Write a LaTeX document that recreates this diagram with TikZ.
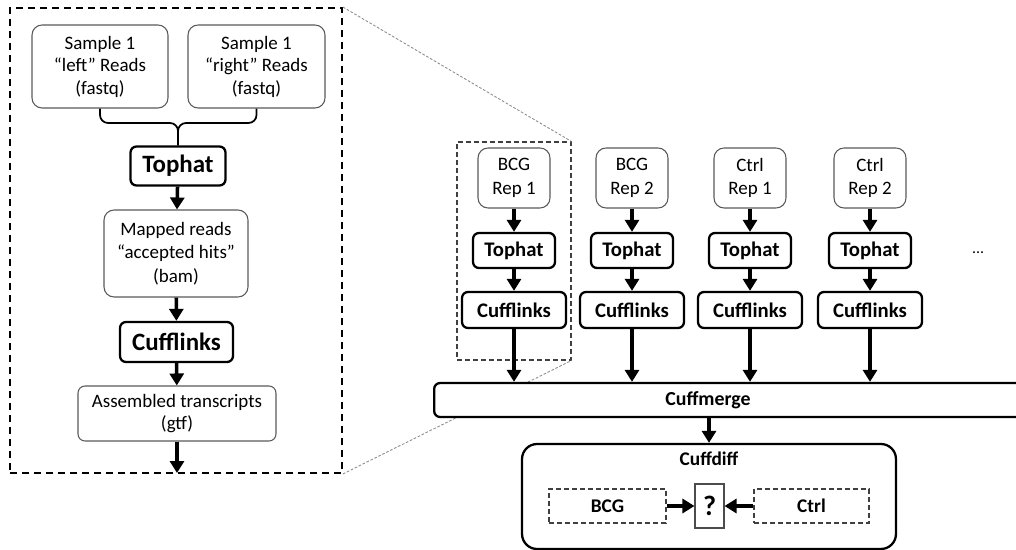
\documentclass[tikz,border=0pt]{standalone}
\usepackage{fontspec}
\setmainfont{Carlito}
\usepackage{tikz}
\usetikzlibrary{arrows.meta, positioning}

\begin{document}
\begin{tikzpicture}[x=0.02cm, y=-0.02cm,
  filebox/.style={draw=black!65, line width=0.6pt, rounded corners=0.2cm, align=center, inner sep=0pt, font=\fontsize{10.8}{12.8}\selectfont},
  toolbox/.style={draw=black, line width=1.3pt, rounded corners=0.12cm, inner sep=0pt, font=\fontsize{14.2}{16}\selectfont\bfseries},
  smalltool/.style={toolbox, font=\fontsize{11.8}{14}\selectfont\bfseries},
  zoombox/.style={draw=black, line width=1.1pt, dash pattern=on 0.14cm off 0.1cm},
  groupbox/.style={draw=black!75, line width=0.6pt, dash pattern=on 0.1cm off 0.06cm, inner sep=0pt, font=\fontsize{11}{13}\selectfont\bfseries},
  flow/.style={line width=2pt, -{Triangle[width=0.28cm, length=0.24cm]}},
  zoomline/.style={draw=black!45, line width=0.5pt, dash pattern=on 1.5pt off 1pt}]
  \useasboundingbox (0,0) rectangle (1016,550);

  % One sample, zoomed in
  \node[zoombox, minimum width=6.64cm, minimum height=9.3cm] (zoomL) at (176,240.5) {};
  \node[filebox, minimum width=2.72cm, minimum height=1.66cm] (samL) at (100,66.5) {Sample 1\\“left” Reads\\(fastq)};
  \node[filebox, minimum width=2.74cm, minimum height=1.66cm] (samR) at (256.5,66.5) {Sample 1\\“right” Reads\\(fastq)};
  \node[toolbox, minimum width=1.9cm, minimum height=0.78cm] (tophatL) at (178,166) {Tophat};
  \node[filebox, minimum width=2.88cm, minimum height=1.74cm, font=\fontsize{10.8}{13.5}\selectfont] (mapped) at (176,253.5) {Mapped reads\\“accepted hits”\\(bam)};
  \node[toolbox, minimum width=2.26cm, minimum height=0.8cm] (cufflinksL) at (176.5,342) {Cufflinks};
  \node[filebox, minimum width=3.96cm, minimum height=1.1cm, rounded corners=0.14cm] (asm) at (177,413.5) {Assembled transcripts\\(gtf)};
  \coordinate (join) at (178,123);
  \coordinate (outL) at (177,473);
  \draw[line width=1pt, rounded corners=0.16cm] (samL.south) |- (join) -- (tophatL.north);
  \draw[line width=1pt, rounded corners=0.16cm] (samR.south) |- (join) -- (tophatL.north);
  \draw[flow] (tophatL) -- (mapped);
  \draw[flow] (mapped) -- (cufflinksL);
  \draw[flow] (cufflinksL) -- (asm);
  \draw[flow] (asm.south) -- (outL);

  % Zoom lines
  \node[draw=black!75, line width=0.6pt, dash pattern=on 0.1cm off 0.06cm, minimum width=2.28cm, minimum height=4.36cm] (zoomR) at (514,251) {};
  \draw[zoomline] (zoomL.north east) -- (zoomR.north east);
  \draw[zoomline] (zoomL.south east) -- (zoomR.south east);

  % Merge
  \node[toolbox, fill=white, anchor=west, minimum width=11.9cm, minimum height=0.68cm] (cuffmerge) at (433,400) {};
  \node[font=\fontsize{11.3}{13}\selectfont\bfseries] (cuffmergelbl) at (708,400) {Cuffmerge};

  % Replicates
  \foreach \cx/\grp/\rep/\id in {514/BCG/1/a, 632/BCG/2/b, 750/Ctrl/1/c, 870/Ctrl/2/d} {
    \begin{scope}[shift={(\cx,0)}]
      \node[filebox, minimum width=1.44cm, minimum height=1.2cm, font=\fontsize{10.8}{13.5}\selectfont] (rep\id) at (0,178) {\grp\\Rep \rep};
      \node[smalltool, minimum width=1.64cm, minimum height=0.7cm] (th\id) at (0,250.5) {Tophat};
      \node[smalltool, minimum width=2.08cm, minimum height=0.72cm] (cl\id) at (0,310) {Cufflinks};
      \draw[flow] (rep\id) -- (th\id);
      \draw[flow] (th\id) -- (cl\id);
      \draw[flow] (cl\id) -- (cl\id |- cuffmerge.north);
    \end{scope}
  }
  \node[font=\fontsize{9}{11}\selectfont] (dots) at (978,253) {...};

  % Differential expression
  \node[draw, line width=1.3pt, rounded corners=0.3cm, minimum width=7.48cm, minimum height=2.1cm] (cuffdiff) at (709,496.5) {};
  \node[font=\fontsize{11}{13}\selectfont\bfseries] (cuffdifflbl) at (709,459) {Cuffdiff};
  \draw[flow] (cuffmerge.south -| cuffdiff.north) -- (cuffdiff.north);
  \node[groupbox, minimum width=2.34cm, minimum height=0.68cm] (bcg) at (607.5,506) {BCG};
  \node[draw=black!70, line width=0.6pt, inner sep=0pt, minimum width=0.58cm, minimum height=0.88cm, font=\fontsize{16}{18}\selectfont\bfseries] (query) at (709.5,506) {?};
  \node[groupbox, minimum width=2.3cm, minimum height=0.68cm] (ctrl) at (811.5,506) {Ctrl};
  \draw[flow] (bcg) -- (query);
  \draw[flow] (ctrl) -- (query);
\end{tikzpicture}
\end{document}
